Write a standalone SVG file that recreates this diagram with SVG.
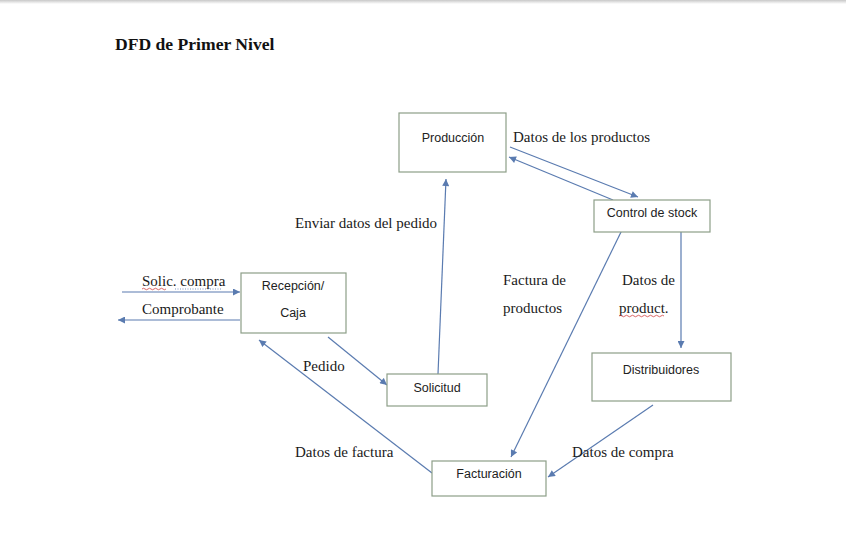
<svg xmlns="http://www.w3.org/2000/svg" width="846" height="560" viewBox="0 0 846 560">
<defs>
<marker id="arr" viewBox="0 0 10 10" refX="10" refY="5" markerWidth="8" markerHeight="7" markerUnits="userSpaceOnUse" orient="auto">
<path d="M0,0 L10,5 L0,10 z" fill="#5a7bb0"/>
</marker>
<linearGradient id="topbar" x1="0" y1="0" x2="0" y2="1">
<stop offset="0" stop-color="#c8c8c8"/>
<stop offset="1" stop-color="#ffffff"/>
</linearGradient>
</defs>
<style>
.box{fill:#ffffff;stroke:#8d9e88;stroke-width:1.2}
.nt{font-family:"Liberation Sans",Arial,sans-serif;font-size:12.5px;fill:#222;text-anchor:middle}
.lb{font-family:"Liberation Serif","Times New Roman",serif;font-size:15px;fill:#1a1a1a}
.ttl{font-family:"Liberation Serif","Times New Roman",serif;font-size:17.6px;font-weight:bold;fill:#111}
.cn{stroke:#5a7bb0;stroke-width:1.2;fill:none;marker-end:url(#arr)}
.sq{stroke:#d04040;stroke-width:0.8;fill:none}
</style>
<rect x="0" y="0" width="846" height="560" fill="#ffffff"/>
<rect x="0" y="0" width="846" height="4" fill="url(#topbar)"/>
<text class="ttl" x="115" y="50">DFD de Primer Nivel</text>

<g id="connectors">
<line class="cn" x1="122" y1="292" x2="240" y2="292"/>
<line class="cn" x1="240" y1="320" x2="118" y2="320"/>
<line class="cn" x1="328" y1="337" x2="387" y2="385"/>
<line class="cn" x1="432" y1="473" x2="259" y2="340"/>
<line class="cn" x1="438" y1="374" x2="446" y2="179"/>
<line class="cn" x1="510" y1="147" x2="638" y2="197"/>
<line class="cn" x1="613" y1="200" x2="509" y2="157"/>
<line class="cn" x1="622" y1="230" x2="511" y2="457"/>
<line class="cn" x1="681" y1="232" x2="681" y2="348"/>
<line class="cn" x1="653" y1="405" x2="548" y2="477"/>
</g>

<g id="labels">
<text class="lb" x="513" y="142">Datos de los productos</text>
<text class="lb" x="295" y="228">Enviar datos del pedido</text>
<text class="lb" x="142" y="286">Solic. compra</text>
<path class="sq" d="M142,289 q1.5,-1.5 3,0 t3,0 t3,0 t3,0 t3,0 t3,0 t3,0 t3,0"/>
<path d="M175,289 L222,289" stroke="#5a7bb0" stroke-width="0.8" stroke-dasharray="1,1.5"/>
<text class="lb" x="142" y="314">Comprobante</text>
<text class="lb" x="303" y="371">Pedido</text>
<text class="lb" x="503" y="285">Factura de</text>
<text class="lb" x="503" y="313">productos</text>
<text class="lb" x="622" y="285">Datos de</text>
<text class="lb" x="619" y="313">product.</text>
<path class="sq" d="M619,316 q1.5,-1.5 3,0 t3,0 t3,0 t3,0 t3,0 t3,0 t3,0 t3,0 t3,0 t3,0 t3,0 t3,0 t3,0 t3,0 t3,0"/>
<text class="lb" x="295" y="457">Datos de factura</text>
<text class="lb" x="572" y="457">Datos de compra</text>
</g>

<g id="produccion">
<rect class="box" x="399" y="113" width="107" height="59"/>
<text class="nt" x="453" y="142">Producción</text>
</g>
<g id="control-stock">
<rect class="box" x="594" y="200" width="116" height="32"/>
<text class="nt" x="652" y="217">Control de stock</text>
</g>
<g id="recepcion-caja">
<rect class="box" x="241" y="273" width="105" height="60"/>
<text class="nt" x="293" y="290">Recepción/</text>
<text class="nt" x="293" y="317">Caja</text>
</g>
<g id="solicitud">
<rect class="box" x="387" y="374" width="100" height="32"/>
<text class="nt" x="437" y="392">Solicitud</text>
</g>
<g id="distribuidores">
<rect class="box" x="592" y="353" width="139" height="48"/>
<text class="nt" x="661" y="374">Distribuidores</text>
</g>
<g id="facturacion">
<rect class="box" x="432" y="461" width="114" height="35"/>
<text class="nt" x="489" y="478">Facturación</text>
</g>
</svg>
